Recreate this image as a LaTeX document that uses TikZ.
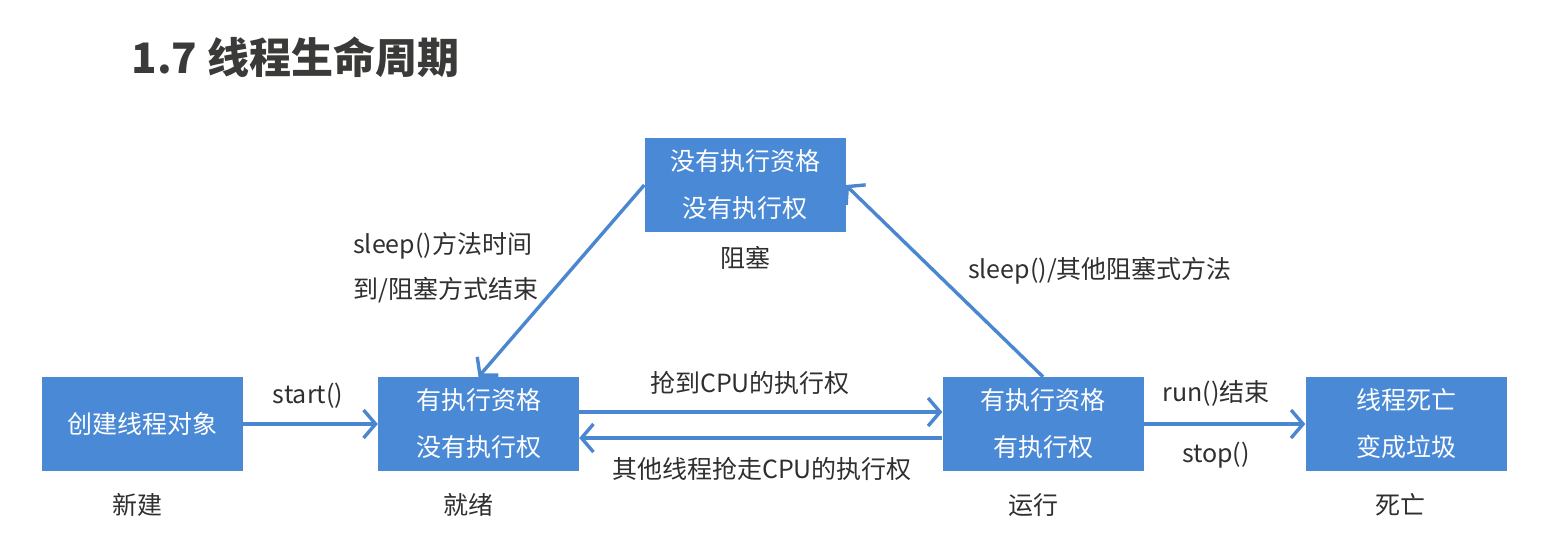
\documentclass[tikz,border=0pt]{standalone}
\usepackage{fontspec}
\setmainfont{Noto Sans CJK SC}
\usepackage{xcolor}
\usepackage{tikz}
\usetikzlibrary{arrows.meta,positioning,calc}
\definecolor{lcBlue}{HTML}{4A89D6}
\definecolor{lcLine}{HTML}{4B86D0}
\definecolor{lcInk}{HTML}{2F2F2F}
\definecolor{lcTitle}{HTML}{3A3A38}

\begin{document}
\begin{tikzpicture}[
  x=1pt,y=1pt,
  state/.style={fill=lcBlue,draw=none,minimum width=201pt,minimum height=94pt,inner sep=0pt,
    align=center,text=white,font=\fontsize{25}{47}\selectfont},
  lab/.style={font=\fontsize{25}{45}\selectfont,color=lcInk,inner sep=0pt},
  flow/.style={draw=lcLine,line width=3.4pt,-{Straight Barb[length=12pt,width=28pt,line width=3.4pt]}}
]
  \useasboundingbox (0,0) rectangle (1546,-539);
  \node[anchor=west,font=\fontsize{42}{44}\selectfont\bfseries,color=lcTitle] (title) at (128,-57) {1.7 线程生命周期};
  % states
  \node[state] (new) at (142,-424) {创建线程对象};
  \node[state] (ready) at (478.5,-424) {有执行资格\\没有执行权};
  \node[state] (run) at (1043,-424) {有执行资格\\有执行权};
  \node[state] (dead) at (1406,-424) {线程死亡\\变成垃圾};
  \node[state] (blk) at (745,-185) {没有执行资格\\没有执行权};
  % names under the states
  \node[lab] (newName) at (137,-505) {新建};
  \node[lab] (readyName) at (468,-505) {就绪};
  \node[lab] (runName) at (1033,-505) {运行};
  \node[lab] (deadName) at (1400,-505) {死亡};
  \node[lab] (blkName) at (745,-258) {阻塞};
  % transitions
  \draw[flow] (new) -- (ready);
  \draw[flow] ([yshift=12pt]ready.east) -- ([yshift=12pt]run.west);
  \draw[flow] ([yshift=-14pt]run.west) -- ([yshift=-14pt]ready.east);
  \draw[flow] (run) -- (dead);
  \draw[flow] (blk.west) -- (ready.north);
  \draw[flow] (run.north) -- (blk.east);
  \node[lab] (startLab) at (308,-396) {start()};
  \node[lab] (grabLab) at (750,-383) {抢到CPU的执行权};
  \node[lab] (lostLab) at (762,-469) {其他线程抢走CPU的执行权};
  \node[lab] (endLab) at (1216,-393) {run()结束};
  \node[lab] (stopLab) at (1216,-455) {stop()};
  \node[lab,anchor=west,align=left] (wakeLab) at (353,-268) {sleep()方法时间\\到/阻塞方式结束};
  \node[lab] (sleepLab) at (1100,-271) {sleep()/其他阻塞式方法};
\end{tikzpicture}
\end{document}
